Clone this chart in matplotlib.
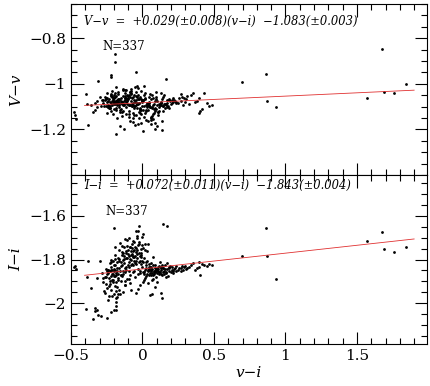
import matplotlib
matplotlib.use('AGG')
import matplotlib.pyplot as plt
from matplotlib.ticker import MultipleLocator, FuncFormatter

# colour v-i of the 337 stars (same stars in both panels)
v_i = [
    # blue tail
    -0.478, -0.465, -0.471, -0.397, -0.381, -0.385, -0.346, -0.335, -0.320, -0.315, -0.300, -0.311, -0.330, -0.360,
    # main clump
    -0.262, -0.118, 0.043, -0.205, -0.071, 0.152, -0.184, -0.027, 0.091, -0.243,
    -0.152, 0.012, -0.093, 0.204, -0.221, -0.049, 0.117, -0.168, 0.066, -0.007,
    -0.197, -0.083, 0.131, -0.236, 0.028, -0.142, 0.183, -0.061, -0.215, 0.079,
    -0.128, 0.054, -0.274, -0.036, 0.168, -0.177, -0.104, 0.097, -0.013, -0.249,
    0.036, -0.158, 0.226, -0.075, -0.193, 0.112, -0.047, -0.228, 0.061, -0.121,
    -0.016, 0.143, -0.211, -0.089, 0.021, -0.165, 0.188, -0.055, -0.258, 0.074,
    -0.137, -0.002, 0.249, -0.186, -0.069, 0.104, -0.232, 0.047, -0.112, -0.031,
    0.127, -0.201, -0.081, 0.015, -0.148, 0.214, -0.058, -0.269, 0.086, -0.173,
    -0.024, -0.124, 0.159, -0.216, 0.033, -0.097, -0.187, 0.069, -0.041, 0.197,
    -0.239, -0.109, 0.008, -0.161, 0.139, -0.066, -0.204, 0.052, -0.131, -0.011,
    0.174, -0.254, -0.085, 0.024, -0.179, 0.108, -0.044, -0.223, 0.083, -0.146,
    -0.006, 0.236, -0.196, -0.072, 0.041, -0.139, 0.123, -0.052, -0.281, 0.063,
    -0.167, -0.028, 0.192, -0.115, 0.004, -0.208, 0.094, -0.078, -0.154, 0.029,
    -0.246, 0.146, -0.101, -0.019, -0.189, 0.058, -0.063, 0.221, -0.134, -0.227,
    0.017, -0.171, -0.087, 0.133, -0.038, -0.219, 0.072, -0.125, -0.004, 0.165,
    -0.199, -0.095, 0.049, -0.263, -0.146, 0.101, -0.033, -0.182, 0.019, -0.068,
    0.257, -0.141, -0.014, -0.234, 0.088, -0.106, 0.039, -0.175, 0.179, -0.057,
    -0.092, -0.213, 0.006, -0.128, 0.118, -0.046, -0.241, 0.064, -0.163, -0.021,
    0.141, -0.077, -0.194, 0.031, -0.116, 0.207, -0.035, -0.157, 0.077, -0.273,
    -0.062, 0.011, -0.136, 0.171, -0.209, -0.098, 0.046, -0.012, -0.181, 0.092,
    -0.113, -0.229, 0.124, -0.043, 0.003, -0.162, 0.061, -0.084, 0.231, -0.192,
    -0.026, -0.149, 0.081, -0.257, -0.073, 0.151, -0.119, 0.026, -0.186, -0.053,
    0.098, -0.217, -0.009, -0.133, 0.057, -0.091, 0.186, -0.169, -0.039, 0.013,
    -0.248, 0.114, -0.067, -0.144, 0.038, -0.198, -0.107, 0.268, -0.016, 0.071,
    -0.173, -0.056, 0.161, -0.222, -0.121, 0.022, -0.086, 0.136, -0.153, -0.003,
    0.287, 0.312, 0.296, 0.336, 0.271, 0.322, 0.351, 0.304, 0.283, 0.278,
    0.378, 0.403, 0.413, 0.431, 0.449, 0.462, 0.398, 0.367, 0.392, 0.485,
    -0.226, -0.064, 0.085, -0.176, -0.131, 0.052, -0.029, -0.202, 0.109, -0.097,
    -0.147, 0.002, -0.238, 0.129, -0.079, -0.018, -0.192, 0.044, -0.111, 0.212,
    -0.042, -0.183, 0.068, -0.123,
    -0.193, -0.193, -0.222, -0.218, -0.187, -0.042, 0.168, 0.005, 0.090, 0.137,
    -0.199, -0.025, -0.030, 0.144, 0.175, -0.248, -0.290, 0.133, -0.185, 0.100,
    # red stragglers
    0.694, 0.864, 0.873, 0.932, 1.570, 1.675, 1.686, 1.756, 1.845,
]

V_v = [
    -1.123, -1.155, -1.135, -1.043, -1.180, -1.090, -1.122, -1.085, -1.100, -1.075, -1.060, -0.986, -1.115, -1.095,
    -1.071, -1.102, -1.058, -1.134, -1.089, -1.047, -1.015, -1.123, -1.076, -1.092,
    -1.061, -1.097, -1.144, -1.083, -1.052, -1.078, -1.118, -1.036, -1.101, -1.065,
    -1.109, -1.021, -1.082, -1.067, -1.158, -1.088, -1.071, -1.049, -1.093, -1.127,
    -1.074, -1.043, -1.083, -1.108, -1.092, -1.149, -1.063, -1.057, -1.031, -1.079,
    -1.087, -1.113, -1.074, -1.096, -1.041, -1.138, -1.069, -1.081, -1.152, -1.027,
    -1.058, -1.099, -1.077, -1.163, -1.042, -1.086, -1.106, -1.014, -1.068, -1.093,
    -1.119, -1.072, -1.084, -1.053, -1.129, -1.076, -1.104, -1.095, -1.062, -1.176,
    -1.039, -1.088, -1.075, -1.066, -1.111, -1.079, -1.137, -1.096, -1.172, -1.045,
    -1.084, -1.062, -1.107, -1.031, -1.091, -1.121, -1.078, -1.142, -1.009, -1.088,
    -1.102, -1.089, -1.047, -1.073, -1.066, -1.168, -1.059, -1.101, -1.093, -1.117,
    -1.071, -1.064, -1.036, -1.094, -1.082, -1.124, -1.055, -1.118, -1.087, -1.141,
    -1.079, -1.083, -1.061, -1.097, -1.114, -1.028, -1.092, -1.181, -1.071, -1.066,
    -1.091, -1.051, -1.077, -1.133, -1.069, -1.076, -1.109, -1.044, -1.186, -1.084,
    -1.041, -1.096, -1.067, -1.113, -1.081, -1.157, -1.094, -1.072, -1.021, -1.104,
    -1.128, -1.068, -1.091, -1.081, -1.059, -1.046, -1.131, -1.073, -1.096, -1.087,
    -1.086, -1.131, -1.099, -1.058, -1.079, -1.092, -1.017, -1.107, -1.064, -1.151,
    -1.063, -1.078, -1.126, -1.098, -1.108, -1.051, -1.161, -1.084, -1.097, -1.073,
    -1.094, -1.057, -1.072, -1.196, -1.089, -1.138, -1.076, -1.049, -1.103, -1.082,
    -1.118, -1.041, -1.082, -1.101, -1.029, -1.069, -1.087, -1.124, -1.062, -1.071,
    -1.106, -1.145, -1.091, -1.083, -1.067, -1.052, -1.081, -1.173, -1.094, -1.037,
    -1.081, -1.106, -1.093, -1.038, -1.114, -1.067, -1.147, -1.059, -1.079, -1.089,
    -1.152, -1.074, -1.109, -1.096, -1.062, -1.088, -1.041, -1.117, -1.077, -1.099,
    -1.068, -1.084, -1.133, -1.055, -1.178, -1.093, -1.066, -1.072, -1.083, -1.011,
    -1.062, -1.101, -1.086, -1.124, -1.095, -1.047, -1.071, -1.046, -1.104, -1.154,
    -1.078, -1.098, -1.089, -1.051, -1.063, -1.119, -1.036, -1.164, -1.082, -1.075,
    -1.063, -1.052, -1.081, -1.047, -1.074, -1.089, -1.041, -1.068, -1.093, -1.058,
    -1.076, -1.119, -1.112, -1.039, -1.086, -1.098, -1.064, -1.081, -1.128, -1.091,
    -1.097, -1.056, -1.118, -1.071, -1.088, -1.103, -1.066, -1.079, -1.124, -1.047,
    -1.083, -1.069, -1.101, -1.092, -1.033, -1.112, -1.058, -1.086, -1.075, -1.062,
    -1.091, -1.076, -1.108, -1.054,
    -0.868, -0.904, -0.960, -0.970, -1.220, -0.950, -0.981, -1.206, -1.200, -1.202,
    -1.074, -1.065, -1.090, -1.058, -1.103, -1.128, -1.097, -1.082, -1.115, -1.185,
    -0.991, -0.955, -1.076, -1.102, -1.064, -0.847, -1.038, -1.042, -0.999,
]

I_i = [
    -1.836, -1.842, -1.828, -2.024, -1.806, -1.880, -2.070, -2.035, -2.030, -1.885, -1.805, -2.055, -2.020, -1.930,
    -1.952, -1.771, -1.842, -1.893, -1.748, -1.851, -1.861, -1.719, -1.838, -1.987,
    -1.812, -1.795, -1.703, -1.847, -1.938, -1.786, -1.829, -1.884, -1.861, -1.752,
    -1.843, -1.761, -1.868, -1.921, -1.874, -1.739, -1.836, -1.807, -1.967, -1.851,
    -1.784, -1.832, -1.902, -1.691, -1.857, -1.926, -1.823, -1.879, -1.768, -1.866,
    -1.847, -1.958, -1.839, -1.774, -1.875, -1.844, -1.822, -1.852, -1.818, -1.708,
    -1.861, -1.839, -1.847, -1.796, -1.728, -1.806, -1.852, -1.741, -1.913, -1.891,
    -1.868, -1.805, -1.846, -1.978, -1.714, -1.861, -1.884, -1.821, -1.762, -1.937,
    -1.833, -1.826, -1.827, -1.846, -1.869, -1.862, -1.788, -1.945, -1.927, -1.791,
    -1.811, -1.898, -1.826, -1.865, -1.759, -1.852, -2.012, -1.844, -1.701, -1.858,
    -1.848, -1.737, -1.893, -1.941, -1.871, -1.858, -1.902, -1.963, -1.817, -1.779,
    -1.817, -1.878, -1.906, -1.826, -1.841, -1.834, -1.748, -2.038, -1.866, -1.767,
    -1.734, -1.851, -1.957, -1.821, -1.907, -1.851, -1.812, -1.878, -1.861, -1.833,
    -1.839, -1.843, -1.829, -1.791, -1.683, -1.868, -1.851, -1.939, -1.724, -1.866,
    -1.931, -1.858, -1.776, -1.809, -1.827, -1.871, -1.763, -1.843, -1.948, -1.818,
    -1.884, -1.893, -1.744, -1.849, -1.774, -1.849, -1.871, -1.856, -1.832, -1.861,
    -1.877, -1.812, -1.836, -1.879, -1.781, -1.845, -1.732, -1.943, -1.757, -1.789,
    -1.837, -1.875, -1.784, -1.968, -1.826, -1.709, -1.854, -1.853, -1.874, -1.851,
    -1.887, -1.894, -1.748, -1.741, -1.858, -1.806, -1.862, -1.895, -1.799, -1.727,
    -1.841, -1.779, -1.919, -1.807, -1.833, -1.836, -1.793, -1.854, -1.827, -1.884,
    -1.718, -1.859, -1.803, -1.845, -1.807, -1.758, -1.869, -1.822, -1.971, -1.842,
    -1.847, -1.899, -1.856, -1.764, -1.812, -1.758, -1.847, -1.872, -1.829, -1.847,
    -1.772, -1.831, -1.858, -1.842, -1.731, -1.868, -1.918, -1.839, -1.903, -1.815,
    -1.847, -1.876, -1.788, -1.772, -1.853, -1.834, -1.841, -1.866, -1.756, -1.868,
    -1.853, -1.867, -1.785, -1.823, -1.729, -1.851, -1.794, -1.839, -1.851, -1.788,
    -1.957, -1.757, -1.844, -1.803, -1.837, -1.812, -1.742, -1.826, -1.872, -1.695,
    -1.834, -1.838, -1.829, -1.827, -1.852, -1.833, -1.818, -1.842, -1.848, -1.831,
    -1.838, -1.873, -1.820, -1.827, -1.829, -1.821, -1.812, -1.846, -1.832, -1.825,
    -1.912, -1.823, -1.853, -1.811, -1.799, -1.861, -1.868, -2.031, -1.853, -1.783,
    -1.897, -1.858, -1.848, -1.838, -1.804, -1.918, -1.798, -1.847, -1.888, -1.852,
    -1.952, -1.871, -1.956, -1.916,
    -1.741, -1.778, -1.834, -1.812, -1.992, -1.672, -1.878, -1.903, -1.857, -1.975,
    -1.655, -1.645, -1.670, -1.639, -1.647, -2.066, -2.060, -1.953, -2.030, -1.905,
    -1.782, -1.655, -1.783, -1.889, -1.715, -1.675, -1.751, -1.764, -1.745,
]

# fitted relations: slope, intercept
fit_top = (0.029, -1.083)
fit_bot = (0.072, -1.843)
fit_x = [-0.405, 1.90]

x_ticks = [-0.5, 0, 0.5, 1, 1.5]
top_ticks = [-0.8, -1, -1.2]
bot_ticks = [-1.6, -1.8, -2]

plt.rcParams['font.family'] = 'DejaVu Serif'

fig = plt.figure(figsize=(4.30, 3.86), dpi=100)
ax1 = fig.add_axes([0.1651, 0.5466, 0.8279, 0.4430])
ax2 = fig.add_axes([0.1651, 0.1088, 0.8279, 0.4378])

# pgplot style labels: -1 instead of -1.0, real minus sign
fmt = FuncFormatter(lambda v, pos: ('%g' % v).replace('-', '\u2212'))

def style(ax, ylo, yhi, yticks):
    ax.set_xlim(-0.5, 1.99)
    ax.set_ylim(ylo, yhi)
    ax.set_xticks(x_ticks)
    ax.set_yticks(yticks)
    ax.xaxis.set_minor_locator(MultipleLocator(0.1))
    ax.yaxis.set_minor_locator(MultipleLocator(0.05))
    ax.xaxis.set_major_formatter(fmt)
    ax.yaxis.set_major_formatter(fmt)
    ax.tick_params(which='both', direction='in', top=True, right=True, width=0.8, labelsize=11)
    ax.tick_params(which='major', length=9)
    ax.tick_params(which='minor', length=4.5)
    for s in ax.spines.values():
        s.set_linewidth(0.8)

# top panel: V-v
style(ax1, -1.40, -0.65, top_ticks)
ax1.scatter(v_i, V_v, s=4, c='black', linewidths=0)
ax1.plot(fit_x, [fit_top[0] * x + fit_top[1] for x in fit_x], color='#e03030', lw=0.6)
ax1.set_xticklabels([])
ax1.set_ylabel('V\u2212v', fontsize=11, labelpad=4, style='italic')
ax1.text(-0.41, -0.727, 'V\u2212v  =  +0.029(\u00b10.008)(v\u2212i)  \u22121.083(\u00b10.003)',
         fontsize=8.3, va='center', style='italic')
ax1.text(-0.28, -0.838, 'N=337', fontsize=8.5, va='center')

# bottom panel: I-i
style(ax2, -2.186, -1.414, bot_ticks)
ax2.scatter(v_i, I_i, s=4, c='black', linewidths=0)
ax2.plot(fit_x, [fit_bot[0] * x + fit_bot[1] for x in fit_x], color='#e03030', lw=0.6)
ax2.set_ylabel('I\u2212i', fontsize=11, labelpad=4, style='italic')
ax2.set_xlabel('v\u2212i', fontsize=11, labelpad=2, style='italic')
ax2.text(-0.41, -1.462, 'I\u2212i  =  +0.072(\u00b10.011)(v\u2212i)  \u22121.843(\u00b10.004)',
         fontsize=8.3, va='center', style='italic')
ax2.text(-0.26, -1.58, 'N=337', fontsize=8.5, va='center')

fig.savefig('out.png', dpi=100)
